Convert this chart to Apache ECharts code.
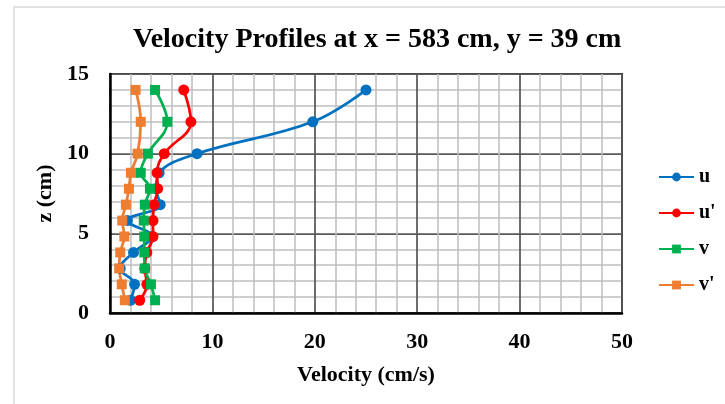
<!DOCTYPE html>
<html>
<head>
<meta charset="utf-8">
<script src="https://cdn.jsdelivr.net/npm/echarts@6/dist/echarts.min.js"></script>
<style>
html,body{margin:0;padding:0;background:#fff;}
#chart{width:725px;height:404px;}
</style>
</head>
<body>
<div id="chart"></div>
<script>
const zLevels = [0.8, 1.8, 2.8, 3.8, 4.8, 5.8, 6.8, 7.8, 8.8, 10, 12, 14];
const uVals = [2.0, 2.4, 1.0, 2.3, 4.1, 1.7, 4.9, 4.5, 4.8, 8.5, 19.8, 25.0];
const uPrimeVals = [2.9, 3.6, 3.4, 3.6, 4.2, 4.2, 4.3, 4.65, 4.6, 5.3, 7.9, 7.2];
const vVals = [4.4, 4.0, 3.4, 3.35, 3.35, 3.3, 3.4, 3.9, 3.0, 3.7, 5.6, 4.4];
const vPrimeVals = [1.45, 1.15, 0.9, 1.0, 1.4, 1.2, 1.55, 1.85, 2.05, 2.7, 3.0, 2.5];
const seriesNames = ['u', "u'", 'v', "v'"];
const seriesColors = ['#0070C0', '#FF0000', '#00B050', '#ED7D31'];
const seriesSymbols = ['circle', 'circle', 'rect', 'rect'];
const title = 'Velocity Profiles at x = 583 cm, y = 39 cm';
const xName = 'Velocity (cm/s)';
const yName = 'z (cm)';

const FONT = "'Liberation Serif', 'Times New Roman', serif";
const allVals = [uVals, uPrimeVals, vVals, vPrimeVals];

const chart = echarts.init(document.getElementById('chart'), null, {renderer: 'canvas'});

const series = allVals.map((vals, i) => ({
  name: seriesNames[i],
  type: 'line',
  smooth: 0.4,
  data: vals.map((v, k) => [v, zLevels[k]]),
  symbol: seriesSymbols[i],
  symbolSize: seriesSymbols[i] === 'circle' ? 11 : 10,
  lineStyle: {color: seriesColors[i], width: 2.75},
  itemStyle: {color: seriesColors[i]},
  emphasis: {disabled: true},
  animation: false
}));

chart.setOption({
  animation: false,
  backgroundColor: '#fff',
  graphic: [{
    type: 'rect',
    shape: {x: 14, y: 7, width: 740, height: 420},
    style: {fill: 'none', stroke: '#d9d9d9', lineWidth: 1.5},
    silent: true, z: -10
  }],
  title: {
    text: title,
    left: 128, top: 21,
    textStyle: {fontFamily: FONT, fontWeight: 'bold', fontSize: 28, color: '#000'}
  },
  legend: {
    orient: 'vertical',
    left: 658, top: 167,
    itemWidth: 35, itemHeight: 11, itemGap: 16,
    padding: 0,
    textStyle: {fontFamily: FONT, fontWeight: 'bold', fontSize: 20, color: '#000'},
    data: seriesNames
  },
  grid: {
    left: 110, right: 103, top: 74, bottom: 91,
    show: true, borderColor: '#262626', borderWidth: 2,
    containLabel: false
  },
  xAxis: {
    type: 'value', min: 0, max: 50, interval: 10,
    name: xName, nameLocation: 'middle', nameGap: 51,
    nameTextStyle: {fontFamily: FONT, fontWeight: 'bold', fontSize: 22, color: '#000'},
    axisLine: {show: true, lineStyle: {color: '#000', width: 2.5}},
    axisTick: {show: false},
    axisLabel: {fontFamily: FONT, fontWeight: 'bold', fontSize: 22, color: '#000', margin: 18},
    splitLine: {show: true, lineStyle: {color: '#595959', width: 1.75}},
    minorTick: {show: false, splitNumber: 5},
    minorSplitLine: {show: true, lineStyle: {color: '#bfbfbf', width: 1.5}}
  },
  yAxis: {
    type: 'value', min: 0, max: 15, interval: 5,
    name: yName, nameLocation: 'middle', nameGap: 45, nameRotate: 90,
    nameTextStyle: {fontFamily: FONT, fontWeight: 'bold', fontSize: 22, color: '#000'},
    axisLine: {show: true, lineStyle: {color: '#000', width: 2.5}},
    axisTick: {show: false},
    axisLabel: {fontFamily: FONT, fontWeight: 'bold', fontSize: 22, color: '#000', margin: 21},
    splitLine: {show: true, lineStyle: {color: '#595959', width: 1.75}},
    minorTick: {show: false, splitNumber: 5},
    minorSplitLine: {show: true, lineStyle: {color: '#bfbfbf', width: 1.5}}
  },
  series: series
});
</script>
</body>
</html>
